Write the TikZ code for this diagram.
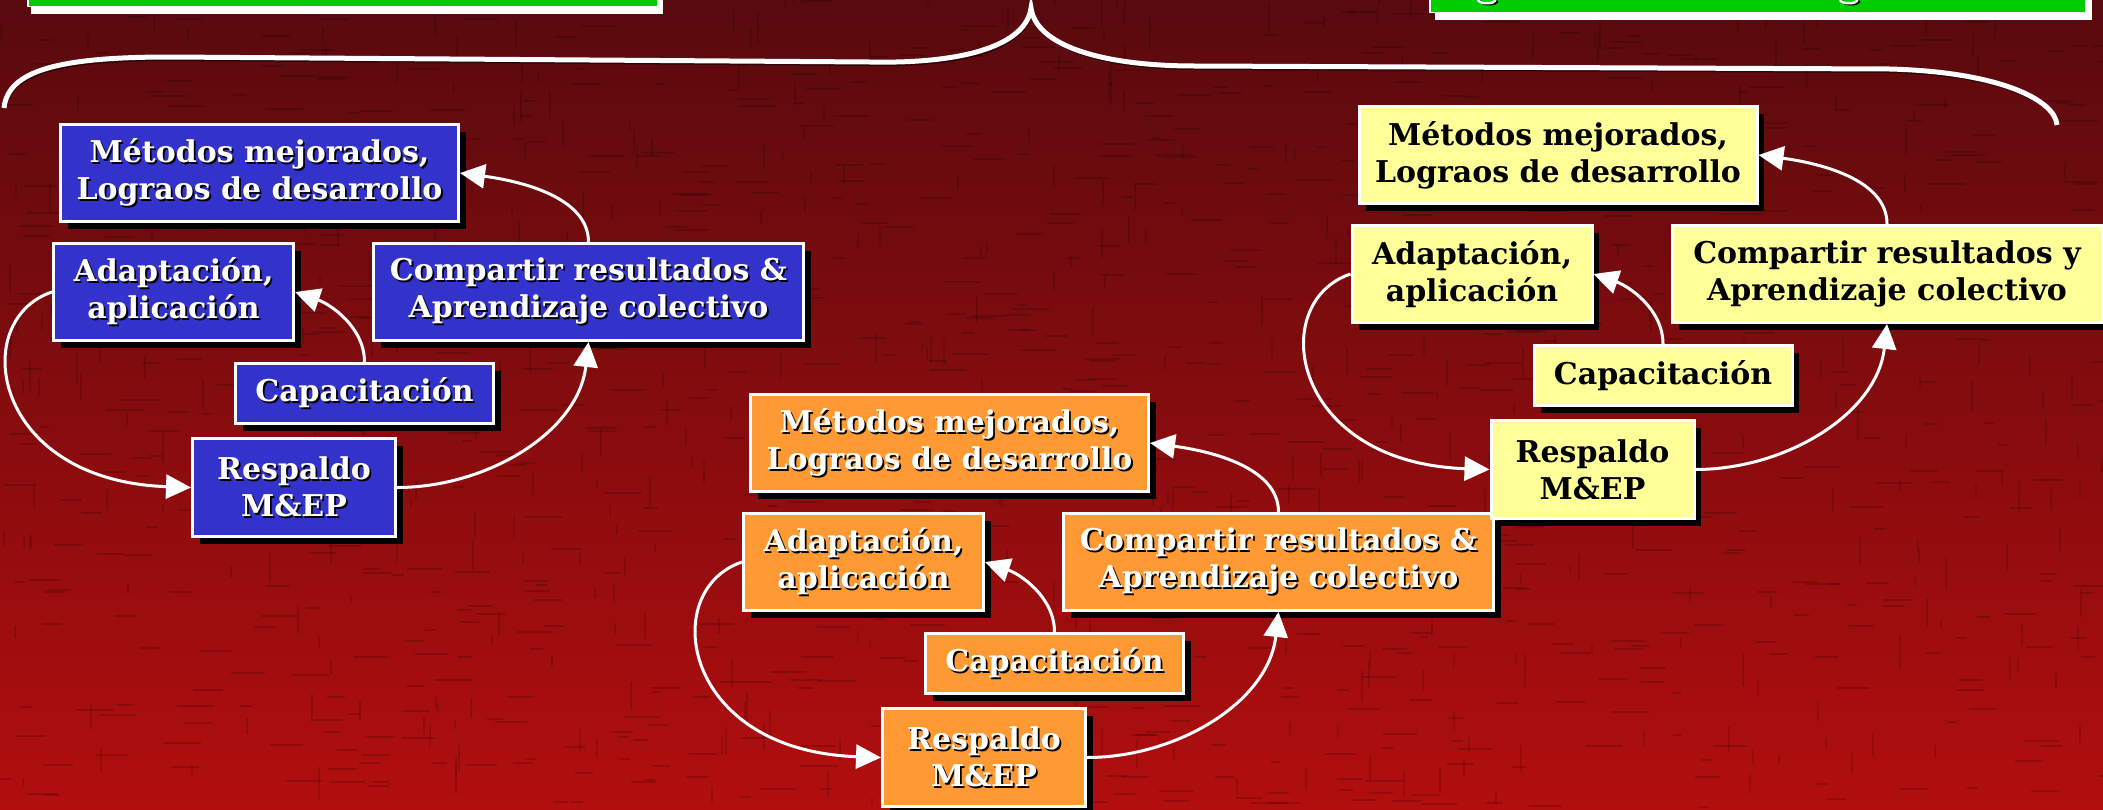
\documentclass[tikz,border=0pt]{standalone}
\usepackage{fontspec}
\setmainfont{DejaVu Serif}
\usetikzlibrary{arrows.meta,shadows}
\definecolor{bgtop}{RGB}{88,10,14}
\definecolor{bgmid}{RGB}{125,12,14}
\definecolor{bgbot}{RGB}{178,14,14}
\definecolor{boxblue}{RGB}{51,51,204}
\definecolor{boxorange}{RGB}{255,153,51}
\definecolor{boxyellow}{RGB}{255,255,153}
\definecolor{titlegreen}{RGB}{0,204,0}

\newcommand\shd[1]{\leavevmode\rlap{\kern1.8pt\raisebox{-1.8pt}{\textcolor{black}{#1}}}#1}
\newcommand\pln[1]{#1}

\tikzset{
  cbox/.style={draw=white, line width=3pt, inner sep=0pt, align=center,
    font=\fontsize{30}{37}\selectfont\bfseries,
    drop shadow={shadow xshift=7pt, shadow yshift=-7pt, opacity=1, fill=black}},
  bluebox/.style={cbox, fill=boxblue, text=white},
  orangebox/.style={cbox, fill=boxorange, text=white},
  yellowbox/.style={cbox, fill=boxyellow, text=black},
  greenbox/.style={fill=titlegreen, draw=white, line width=1.5pt, inner sep=0pt},
  flow/.style={draw=white, line width=3pt, -{Triangle[length=25pt,width=24pt]}},
  bracestyle/.style={draw=white, line width=5pt},
  braceshadow/.style={draw=black, opacity=0.5, line width=5pt},
}

\newcommand\cyc[5]{%
  \begin{scope}[shift={#2}]
    \node[#3, minimum width=398pt, minimum height=97pt] (#1met) at (259.5,-173) {#4{Métodos mejorados,}\\#4{Lograos de desarrollo}};
    \node[#3, minimum width=240pt, minimum height=97pt] (#1adap) at (173.5,-292) {#4{Adaptación,}\\#4{aplicación}};
    \node[#3, minimum width=430pt, minimum height=97pt] (#1comp) at (588.5,-292) {#4{Compartir resultados #5}\\#4{Aprendizaje colectivo}};
    \node[#3, minimum width=258pt, minimum height=60pt] (#1cap) at (364.5,-393.5) {#4{Capacitación}};
    \node[#3, minimum width=203pt, minimum height=98pt] (#1resp) at (294,-487.5) {#4{Respaldo}\\#4{M\&EP}};
  \end{scope}
  \draw[flow] (#1comp.north) .. controls +(0,45) and +(60,-8) .. (#1met.east);
  \draw[flow] (#1cap.north) .. controls +(0,35) and +(35,-12) .. (#1adap.east);
  \draw[flow] (#1adap.west) .. controls +(-84,-28) and +(-200,7) .. (#1resp.west);
  \draw[flow] (#1resp.east) .. controls +(90,0) and +(-10,-90) .. (#1comp.south);
}

\begin{document}
\begin{tikzpicture}[x=1pt,y=1pt]
  \useasboundingbox (0,0) rectangle (2103,-809);
  \shade[top color=bgtop, middle color=bgmid, bottom color=bgbot] (0,0) rectangle (2103,-809);
  % texture
  \pgfmathsetseed{7}
  \foreach \i in {1,...,900}{
    \pgfmathsetmacro\xx{rnd*2103}
    \pgfmathsetmacro\yy{-rnd*809}
    \pgfmathsetmacro\ll{8+rnd*30}
    \draw[black, opacity=0.16, line width=2pt] (\xx,\yy) -- ++(\ll,0);
  }
  \foreach \i in {1,...,500}{
    \pgfmathsetmacro\xx{rnd*2103}
    \pgfmathsetmacro\yy{-rnd*809}
    \pgfmathsetmacro\ll{8+rnd*25}
    \draw[black, opacity=0.14, line width=2pt] (\xx,\yy) -- ++(0,\ll);
  }

  % title boxes (cut at top)
  \fill[white] (31,-14) rectangle (663,10);
  \node[greenbox, minimum width=630pt, minimum height=30pt, anchor=south west] (gleft) at (27,-7) {};
  \fill[white] (1435,-20) rectangle (2092,10);
  \node[greenbox, minimum width=656pt, minimum height=30pt, anchor=south west] (gright) at (1429,-13) {};
  \draw[black, line width=2.5pt] (1480,-1) arc[start angle=190,end angle=350,x radius=9pt,y radius=4pt];
  \draw[white, line width=2.5pt] (1478,0) arc[start angle=190,end angle=350,x radius=9pt,y radius=4pt];
  \draw[black, line width=2.5pt] (1842,-1) arc[start angle=190,end angle=350,x radius=9pt,y radius=4pt];
  \draw[white, line width=2.5pt] (1840,0) arc[start angle=190,end angle=350,x radius=9pt,y radius=4pt];

  % brace
  \coordinate (bl) at (4,-108);
  \coordinate (bt) at (1031,-8);
  \coordinate (br) at (2057,-125);
  \foreach \st/\dx in {braceshadow/1.5, bracestyle/0}{
    \draw[\st, shift={(\dx,-\dx)}] (bl) .. controls (8,-70) and (60,-57) .. (170,-57)
      -- (870,-62) .. controls (965,-64) and (1026,-45) .. (bt)
      .. controls (1036,-45) and (1100,-66) .. (1195,-66)
      -- (1890,-69) .. controls (2000,-72) and (2055,-100) .. (br);
  }

  \cyc{b}{(0,0)}{bluebox}{\shd}{\&}
  \cyc{o}{(690,-270)}{orangebox}{\shd}{\&}
  \cyc{y}{(1298.5,18)}{yellowbox}{\pln}{y}
\end{tikzpicture}
\end{document}
